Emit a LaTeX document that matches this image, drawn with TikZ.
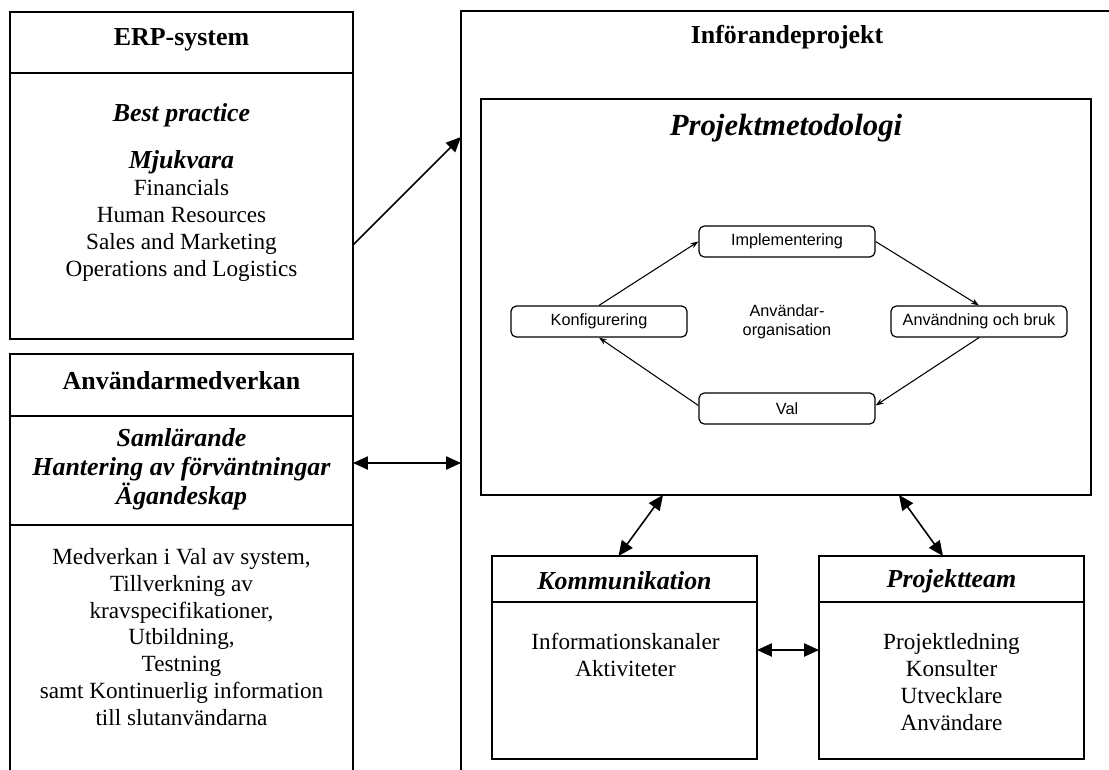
\documentclass[tikz,border=0pt]{standalone}
\usepackage{fontspec}
\setmainfont{Liberation Serif}
\newfontfamily\sansf{Liberation Sans}
\usetikzlibrary{arrows.meta,calc,fit}
\begin{document}
\begin{tikzpicture}[x=0.02cm,y=-0.02cm,
  box/.style={draw,line width=1pt,rectangle,inner sep=0pt,outer sep=0pt},
  rbox/.style={draw,line width=0.7pt,rounded corners=3pt,minimum width=3.52cm,minimum height=0.62cm,inner sep=0pt,font=\sansf\fontsize{9.25}{11}\selectfont},
  divider/.style={line width=1pt},
  hdr/.style={font=\fontsize{14.75}{16}\selectfont\bfseries},
  hdri/.style={font=\fontsize{14.75}{16.6}\selectfont\bfseries\itshape,align=center},
  body/.style={font=\fontsize{13.2}{15.3}\selectfont,align=center},
  big/.style={line width=0.9pt,{Triangle[length=8.5pt,width=7.5pt]}-{Triangle[length=8.5pt,width=7.5pt]}},
  bigone/.style={line width=0.9pt,-{Triangle[length=8.5pt,width=7.5pt]}},
  small/.style={line width=0.6pt,-{Stealth[length=4.5pt,width=3.2pt]}}
]
\useasboundingbox (0,0) rectangle (1109,769);
\clip (0,0) rectangle (1109,769);

% ERP-system
\node[box,fit={(10,12)(353,339)}] (erp) {};
\draw[divider] (erp.west |- 0,73) -- (erp.east |- 0,73);
\node[hdr] (erpt) at (181.5,40) {ERP-system};
\node[hdri] (bp) at (181.5,115) {Best practice};
\node[body] (erpb) at (181.5,216) {{\fontsize{14.75}{15.3}\selectfont\bfseries\itshape Mjukvara}\\Financials\\Human Resources\\Sales and Marketing\\Operations and Logistics};

% Användarmedverkan
\node[box,fit={(10,354)(353,820)}] (anv) {};
\draw[divider] (anv.west |- 0,416) -- (anv.east |- 0,416);
\draw[divider] (anv.west |- 0,525) -- (anv.east |- 0,525);
\node[hdr] (anvt) at (181.5,381) {Användarmedverkan};
\node[hdri] (anvi) at (181.5,469) {Samlärande\\Hantering av förväntningar\\Ägandeskap};
\node[body] (anvb) at (181.5,637) {Medverkan i Val av system,\\Tillverkning av\\kravspecifikationer,\\Utbildning,\\Testning\\samt Kontinuerlig information\\till slutanvändarna};

% Införandeprojekt
\node[box,fit={(461,11)(1140,820)}] (inf) {};
\node[hdr] (inft) at (787,37) {Införandeprojekt};

% Projektmetodologi
\node[box,fit={(481,99)(1091,495)}] (pm) {};
\node[font=\fontsize{17.5}{20}\selectfont\bfseries\itshape] (pmt) at (786,128) {Projektmetodologi};

\node[rbox] (impl) at (787,241.5) {Implementering};
\node[rbox] (konf) at (599,321.5) {Konfigurering};
\node[rbox] (anvn) at (979,321.5) {Användning och bruk};
\node[rbox] (val) at (787,408.5) {Val};
\node[font=\sansf\fontsize{9.25}{10.5}\selectfont,align=center] (org) at (787,322) {Användar-\\organisation};

\draw[small] (konf.north) -- (impl.west);
\draw[small] (impl.east) -- (anvn.north);
\draw[small] (anvn.south) -- ([yshift=0.06cm]val.east);
\draw[small] ([yshift=0.06cm]val.west) -- (konf.south);

% Kommunikation
\node[box,fit={(492,556)(757,759)}] (kom) {};
\draw[divider] (kom.west |- 0,602) -- (kom.east |- 0,602);
\node[hdri] (komt) at (624.5,581) {Kommunikation};
\node[body] (komb) at (625.5,655) {Informationskanaler\\Aktiviteter};

% Projektteam
\node[box,fit={(819,556)(1084,759)}] (pt) {};
\draw[divider] (pt.west |- 0,602) -- (pt.east |- 0,602);
\node[hdri] (ptt) at (951.5,581) {Projektteam};
\node[body] (ptb) at (951.5,682) {Projektledning\\Konsulter\\Utvecklare\\Användare};

% connectors
\draw[bigone] (erp.east |- 0,245) -- (inf.west |- 0,137);
\draw[big] (anv.east |- 0,463) -- (inf.west |- 0,463);
\draw[big] ($(kom.north west)+(126.5,0)$) -- ($(pm.south west)+(182,0)$);
\draw[big] ($(pt.north west)+(124,0)$) -- ($(pm.south west)+(418,0)$);
\draw[big] (kom.east |- 0,650) -- (pt.west |- 0,650);
\end{tikzpicture}
\end{document}
